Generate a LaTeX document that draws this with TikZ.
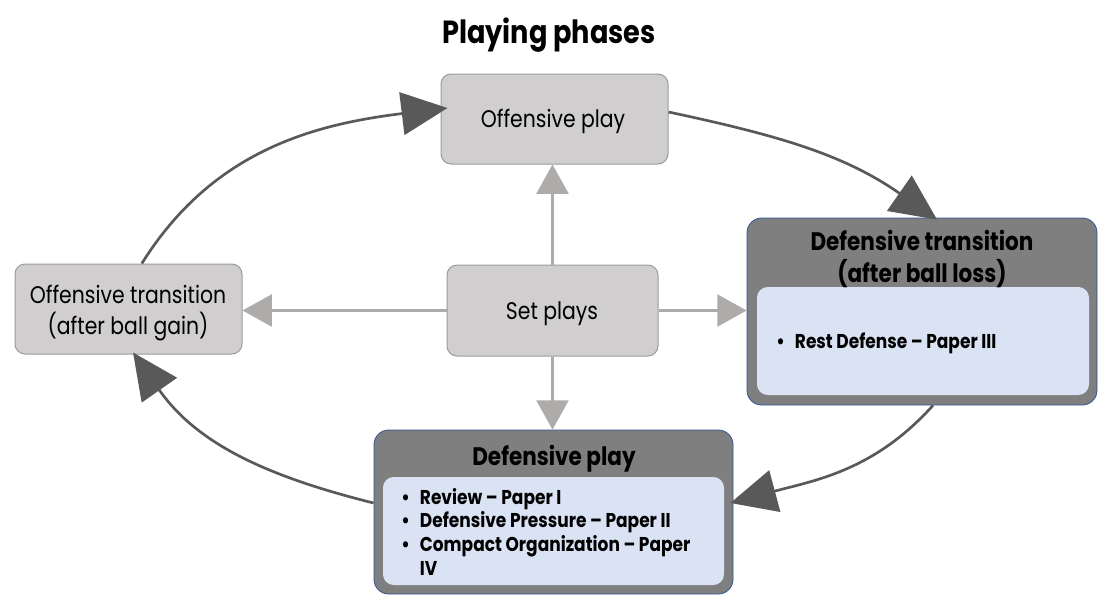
\documentclass[tikz,border=0pt]{standalone}
\usepackage{fontspec}
\setmainfont{Poppins}[FakeStretch=0.85]
\usetikzlibrary{arrows.meta}
\definecolor{boxfill}{HTML}{D0CECE}
\definecolor{boxline}{HTML}{9C9C9C}
\definecolor{darkfill}{HTML}{7F7F7F}
\definecolor{darkline}{HTML}{2F5597}
\definecolor{innerfill}{HTML}{DAE3F3}
\definecolor{cyclegray}{HTML}{595959}
\definecolor{setgray}{HTML}{AEABAB}
% list font with fixed baseline distance
\newcommand{\listfont}{\bfseries\fontsize{15}{17.75}\selectfont\lineskiplimit=-100pt\relax}
% one bullet point with a fixed indent for its text
\newcommand{\paperitem}[1]{\makebox[14pt][l]{\textbullet}#1}
\newcommand{\paperwrap}[1]{\hspace*{14pt}#1}
\begin{document}
\begin{tikzpicture}[x=0.75pt,y=-0.75pt,
  phasebox/.style={draw=boxline, line width=0.75pt, fill=boxfill, rounded corners=7.5pt, inner sep=0pt},
  outerbox/.style={draw=darkline, line width=0.6pt, fill=darkfill, rounded corners=11pt, inner sep=0pt},
  innerbox/.style={fill=innerfill, rounded corners=8pt, inner sep=0pt},
  cyclearrow/.style={draw=cyclegray, line width=2pt, -{Triangle[length=34.5pt,width=32pt]}},
  setarrow/.style={draw=setgray, line width=1.8pt, -{Triangle[length=22pt,width=24pt]}},
  lbl/.style={inner sep=0pt, anchor=base, font=\fontsize{18}{21.75}\selectfont},
  head/.style={inner sep=0pt, anchor=base, font=\bfseries\fontsize{19}{22.5}\selectfont},
  items/.style={inner sep=0pt, anchor=north west, align=left, font=\listfont},
]
\useasboundingbox (0,0) rectangle (1099,596);

% title
\node[inner sep=0pt, anchor=base, font=\bfseries\fontsize{24}{28}\selectfont] (title) at (549,43) {Playing phases};

% plain phase boxes
\node[phasebox, minimum width=170.25pt, minimum height=67.5pt] (op) at (554.5,119) {};
\node[phasebox, minimum width=158.25pt, minimum height=68.25pt] (sp) at (552.5,310.5) {};
\node[phasebox, minimum width=170.25pt, minimum height=67.5pt] (ot) at (128.5,309) {};

\node[lbl] (op-txt) at (553,127) {Offensive play};
\node[lbl] (sp-txt) at (552,319) {Set plays};
\node[lbl] (ot-txt) at (128,303) {\begin{tabular}[t]{@{}c@{}}Offensive transition\\(after ball gain)\end{tabular}};

% phases with paper lists
\node[outerbox, minimum width=262.5pt, minimum height=140.25pt] (dt) at (922,311.5) {};
\node[innerbox, minimum width=249pt, minimum height=81pt] (dt-in) at (923,341) {};
\node[head] (dt-txt) at (922,250) {\begin{tabular}[t]{@{}c@{}}Defensive transition\\(after ball loss)\end{tabular}};
\node[items, anchor=base west] (dt-list) at (776,348) {\paperitem{Rest Defense – Paper III}};

\node[outerbox, minimum width=269.25pt, minimum height=123pt] (dp) at (553.5,512) {};
\node[innerbox, minimum width=255.75pt, minimum height=81pt] (dp-in) at (553.5,531) {};
\node[head] (dp-txt) at (554,465) {Defensive play};
\node[items] (dp-list) at (401,488) {\paperitem{Review – Paper I}\\
\paperitem{Defensive Pressure – Paper II}\\
\paperitem{Compact Organization – Paper}\\
\paperwrap{IV}};

% set plays lead into every phase
\draw[setarrow] (sp.north) -- (sp.north |- op.south);
\draw[setarrow] (sp.west) -- (sp.west -| ot.east);
\draw[setarrow] (sp.east) -- (sp.east -| dt.west);
\draw[setarrow] (sp.south) -- (sp.south |- dp.north);

% the playing cycle
\draw[cyclearrow] ([xshift=10pt]ot.north) to[out=58,in=187] ([xshift=5.25pt,yshift=8.25pt]op.west);
\draw[cyclearrow] ([yshift=5.25pt]op.east) to[out=-12,in=145] ([xshift=11.25pt,yshift=-1.5pt]dt.north);
\draw[cyclearrow] ([xshift=8.25pt]dt.south) to[out=228,in=15] ([xshift=-2.25pt,yshift=6.75pt]dp.east);
\draw[cyclearrow] ([yshift=6.75pt]dp.west) to[out=166,in=-55] ([xshift=3.4pt,yshift=1.5pt]ot.south);
\end{tikzpicture}
\end{document}
